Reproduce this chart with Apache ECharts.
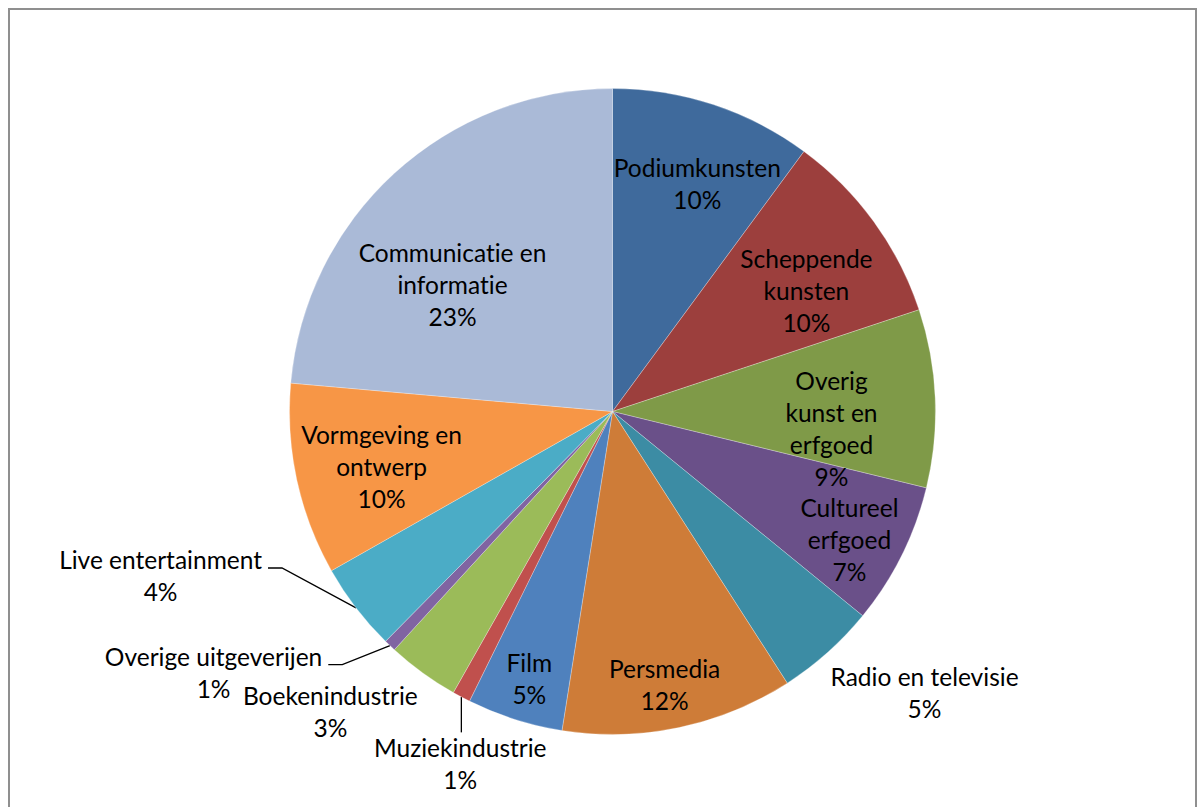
<!DOCTYPE html>
<html><head><meta charset="utf-8">
<script src="https://cdn.jsdelivr.net/npm/echarts@6/dist/echarts.min.js"></script>
<style>
html,body{margin:0;padding:0;background:#fff;overflow:hidden;}
#frame{position:absolute;left:8px;top:8px;width:1189px;height:830px;border:2px solid #8f8f8f;box-sizing:border-box;}
#chart{position:absolute;left:0;top:0;width:1204px;height:807px;font-variant-ligatures:none;}
#chart text{font-variant-ligatures:none;}
</style></head><body>
<div id="frame"></div>
<div id="chart"></div>
<script>
// ---- data ----
const categories = ['Podiumkunsten','Scheppende kunsten','Overig kunst en erfgoed','Cultureel erfgoed','Radio en televisie','Persmedia','Film','Muziekindustrie','Boekenindustrie','Overige uitgeverijen','Live entertainment','Vormgeving en ontwerp','Communicatie en informatie'];
const labelNames = ['Podiumkunsten','Scheppende\nkunsten','Overig\nkunst en\nerfgoed','Cultureel\nerfgoed','Radio en televisie','Persmedia','Film','Muziekindustrie','Boekenindustrie','Overige uitgeverijen','Live entertainment','Vormgeving en\nontwerp','Communicatie en\ninformatie'];
const sliceShares = [10.1, 9.8, 8.9, 7.1, 5.0, 11.6, 4.8, 0.9, 3.6, 0.6, 4.4, 9.6, 23.6];
const percentLabels = ['10%','10%','9%','7%','5%','12%','5%','1%','3%','1%','4%','10%','23%'];

// ---- style / layout ----
const colors = ['#3f6a9c','#9c3f3d','#7f9a48','#6a5089','#3c8ca4','#ce7c38','#4f81bd','#c0504d','#9bbb59','#8064a2','#4bacc6','#f79646','#aabad7'];
const CX = 612.5, CY = 411.5, R = 323;
// label anchor: [radius fraction, angle clockwise from top in degrees]
const labelPolar = [[0.753,20.4],[0.708,58.0],[0.680,94.4],[0.834,118.4],[1.30,132.0],[0.860,169.2],[0.866,197.3],[1.187,203.4],[1.276,223.2],[1.476,236.8],[1.489,250.0],[0.735,256.6],[0.632,308.4]];
const leader = [null,null,null,null,null,null,null,'down',null,'side','side',null,null];

const total = sliceShares.reduce((a,b)=>a+b,0);
function midAngle(i){
  let c = 0; for (let k=0;k<i;k++) c += sliceShares[k];
  return (c + sliceShares[i]/2) / total * 2 * Math.PI;
}

const seriesData = categories.map((name,i)=>({
  name: name,
  value: sliceShares[i],
  itemStyle: {color: colors[i]},
  label: {
    position: leader[i] ? 'outside' : 'inside',
    formatter: labelNames[i] + '\n' + percentLabels[i]
  },
  labelLine: {show: !!leader[i]}
}));

const chart = echarts.init(document.getElementById('chart'), null, {renderer:'svg'});
chart.setOption({
  animation: false,
  backgroundColor: 'transparent',
  series: [{
    type: 'pie',
    center: [CX, CY],
    radius: R,
    startAngle: 90,
    clockwise: true,
    avoidLabelOverlap: false,
    silent: true,
    data: seriesData,
    itemStyle: {borderColor: 'rgba(255,255,255,0.45)', borderWidth: 0.6},
    label: {
      show: true,
      color: '#000',
      fontFamily: 'Lato',
      fontSize: 24.5,
      lineHeight: 32,
      align: 'center'
    },
    labelLine: {lineStyle: {color: '#000', width: 1.3}, length: 10, length2: 10},
    labelLayout: function(p){
      const i = p.dataIndex;
      const f = labelPolar[i][0], a = labelPolar[i][1]*Math.PI/180;
      const x = CX + R*f*Math.sin(a), y = CY - R*f*Math.cos(a);
      const out = {x: x, y: y, align: 'center', verticalAlign: 'middle'};
      const w = p.labelRect.width, h = p.labelRect.height;
      const m = midAngle(i);
      const ex = CX + R*Math.sin(m), ey = CY - R*Math.cos(m);
      if (leader[i] === 'side') {
        const ly = y - 8, rx = x + w/2;
        out.labelLinePoints = [[ex,ey],[rx+20,ly],[rx+6,ly]];
      } else if (leader[i] === 'down') {
        const ty = y - h/2;
        out.labelLinePoints = [[ex,ey],[ex,(ey+ty)/2],[ex,ty+1]];
      }
      return out;
    }
  }]
});
</script>
</body></html>
